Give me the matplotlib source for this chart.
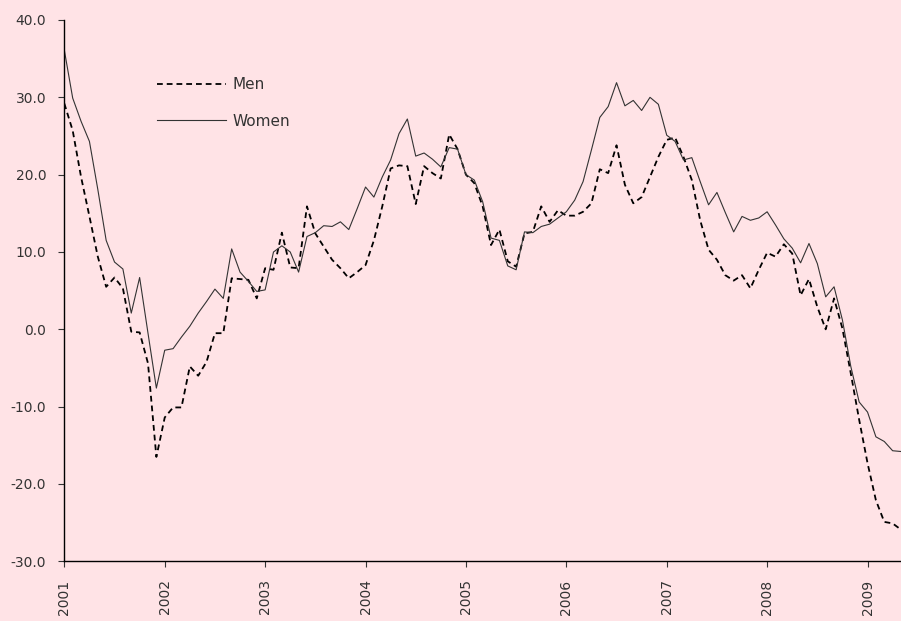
import matplotlib
matplotlib.use("Agg")
import matplotlib.pyplot as plt
from matplotlib.ticker import FormatStrFormatter, FixedLocator

# Monthly data, Jan 2001 .. May 2009
men = [29.2, 25.7, 19.7, 14.6, 9.4, 5.5, 6.7, 5.3, -0.3, -0.4, -4.4, -16.5,
       -11.4, -10.1, -10.1, -4.8, -6.0, -4.2, -0.5, -0.5, 6.6, 6.5, 6.4, 4.0,
       7.9, 7.7, 12.5, 8.0, 7.9, 15.9, 12.4, 10.7, 9.0, 7.9, 6.6, 7.4,
       8.3, 11.5, 15.9, 20.8, 21.2, 21.1, 16.2, 21.1, 20.2, 19.5, 25.2, 23.3,
       20.0, 18.9, 15.9, 10.9, 12.9, 8.8, 8.1, 12.4, 12.6, 15.9, 13.9, 15.4,
       14.7, 14.7, 15.2, 16.3, 20.7, 20.2, 23.8, 18.7, 16.3, 17.1, 19.7, 22.3,
       24.5, 24.8, 22.3, 19.3, 14.1, 10.3, 9.0, 7.0, 6.3, 7.0, 5.3, 7.7,
       9.9, 9.4, 11.0, 9.8, 4.4, 6.5, 2.9, 0.0, 4.0, 0.1, -5.7, -11.7,
       -17.3, -22.1, -24.9, -25.1, -25.9]
women = [36.1, 29.9, 26.9, 24.3, 18.1, 11.5, 8.7, 7.8, 2.1, 6.7, -0.5, -7.6,
         -2.7, -2.5, -1.0, 0.4, 2.1, 3.6, 5.2, 4.0, 10.4, 7.4, 6.2, 4.9,
         5.1, 10.0, 10.8, 10.0, 7.4, 12.0, 12.5, 13.4, 13.3, 13.9, 12.9, 15.6,
         18.4, 17.1, 19.7, 21.9, 25.3, 27.2, 22.4, 22.8, 22.0, 21.0, 23.5, 23.3,
         20.0, 19.3, 16.5, 11.8, 11.5, 8.2, 7.7, 12.6, 12.5, 13.3, 13.6, 14.4,
         15.2, 16.7, 19.1, 23.2, 27.4, 28.8, 31.9, 28.9, 29.6, 28.3, 30.0, 29.1,
         25.1, 24.3, 21.9, 22.2, 19.1, 16.1, 17.7, 15.1, 12.6, 14.6, 14.1, 14.4,
         15.2, 13.5, 11.7, 10.5, 8.6, 11.1, 8.5, 4.2, 5.5, 1.2, -4.8, -9.4,
         -10.7, -13.9, -14.5, -15.7, -15.8]
years = ["2001", "2002", "2003", "2004", "2005", "2006", "2007", "2008", "2009"]
yticks = [-30, -20, -10, 0, 10, 20, 30, 40]

plt.rcParams['axes.unicode_minus'] = False
plt.rcParams['font.family'] = ['DejaVu Sans']

bg = '#FFE3E6'
fig = plt.figure(figsize=(9.01, 6.21), dpi=100, facecolor=bg)
ax = fig.add_axes([0.0714, 0.0961, 1 - 0.0714, 0.9678 - 0.0961], facecolor=bg)

x = list(range(len(men)))
ax.plot(x, men, color='black', lw=1.3, dashes=(3.2, 2.2), label='Men')
ax.plot(x, women, color='#333333', lw=0.8, label='Women')

ax.set_xlim(0, len(men) - 1)
ax.set_ylim(-30, 40)
ax.yaxis.set_major_locator(FixedLocator(yticks))
ax.yaxis.set_major_formatter(FormatStrFormatter('%.1f'))
ax.set_xticks([12 * i for i in range(len(years))])
ax.set_xticklabels(years, rotation=90)

for s in ['top', 'right']:
    ax.spines[s].set_visible(False)
for s in ['left', 'bottom']:
    ax.spines[s].set_linewidth(1.0)
    ax.spines[s].set_color('black')

ax.tick_params(axis='both', direction='out', length=4, width=0.8,
               labelsize=10, labelcolor='#333333', color='#333333')
ax.tick_params(axis='y', pad=9)
ax.tick_params(axis='x', pad=9)

leg = ax.legend(loc='upper left', bbox_to_anchor=(0.0944, 0.9197), frameon=False,
                handlelength=4.5, handletextpad=0.45, labelspacing=1.4,
                fontsize=11)
for t in leg.get_texts():
    t.set_color('#333333')

fig.savefig('out.png', dpi=100, facecolor=bg)
